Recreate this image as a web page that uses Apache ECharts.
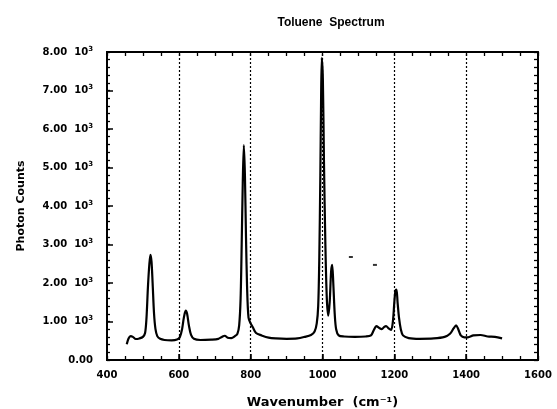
<!DOCTYPE html>
<html>
<head>
<meta charset="utf-8">
<script src="https://cdn.jsdelivr.net/npm/echarts@6/dist/echarts.min.js"></script>
<style>
  html, body { margin: 0; padding: 0; background: #fff; }
  #chart { width: 557px; height: 409px; }
</style>
</head>
<body>
<div id="chart"></div>
<script>
// wavenumber (cm-1) and photon counts
var wavenumbers = [
    455, 460, 466, 472, 480, 490, 500, 506, 510, 514, 518, 521, 524, 527, 531, 535, 540, 548, 560, 580,
    595, 603, 609, 614, 619, 623, 628, 634, 642, 660, 690, 710, 720, 728, 736, 746, 756, 763, 768, 772,
    775, 778, 781, 784, 787, 790, 794, 800, 806, 815, 830, 850, 870, 900, 930, 950, 968, 978, 984, 988,
    991, 994, 996, 998, 1001, 1004, 1008, 1012, 1016, 1020, 1024, 1027, 1030, 1034, 1038, 1045, 1060, 1090, 1120, 1135,
    1143, 1150, 1158, 1165, 1172, 1177, 1184, 1191, 1196, 1200, 1203, 1206, 1209, 1213, 1218, 1224, 1240, 1270, 1310, 1340,
    1355, 1365, 1372, 1378, 1385, 1395, 1405, 1420, 1440, 1460, 1480, 1500
]
var counts = [
    410, 560, 620, 600, 545, 560, 600, 700, 1100, 1900, 2500, 2730, 2550, 2000, 1200, 800, 620, 550, 520, 510,
    530, 600, 800, 1100, 1280, 1200, 900, 650, 550, 520, 530, 550, 600, 630, 580, 570, 620, 680, 900, 1600,
    3000, 4600, 5580, 4800, 3200, 1900, 1100, 950, 850, 700, 640, 580, 560, 550, 560, 600, 650, 740, 950, 1400,
    2600, 4800, 6700, 7850, 7300, 5200, 3000, 1600, 1150, 1500, 2300, 2470, 2000, 1200, 800, 640, 610, 600, 610, 640,
    780, 880, 830, 800, 860, 880, 820, 780, 1000, 1500, 1800, 1830, 1500, 1100, 800, 640, 570, 550, 560, 600,
    680, 820, 900, 800, 640, 590, 590, 640, 650, 610, 600, 560
]
// two stray specks visible in the scan
var speck_x = [1079, 1146]
var speck_y = [2675, 2470]

var y_ticks = [0, 1000, 2000, 3000, 4000, 5000, 6000, 7000, 8000]
var grid_lines = [600, 800, 1000, 1200, 1400]

function pairs(xs, ys)
{
    var out = []
    for (var i = 0; i < xs.length; i++) {
        out.push([xs[i], ys[i]])
    }
    return out
}

var font = '"DejaVu Sans", "Liberation Sans", sans-serif'
var frame_line = { show: true, onZero: false, lineStyle: { color: '#000', width: 2 } }

// an unlabeled axis used only to draw inward ticks along one side of the frame
function tick_axis(position, min, max, interval, len)
{
    return {
        type: 'value', min: min, max: max, interval: interval, position: position,
        axisLine: frame_line,
        axisTick: { show: true, inside: true, length: len, lineStyle: { color: '#000', width: 1.3 } },
        axisLabel: { show: false },
        splitLine: { show: false }
    }
}

var chart = echarts.init(document.getElementById('chart'), null, { renderer: 'canvas' })

var option = {
    animation: false,
    backgroundColor: '#fff',
    title: {
        text: 'Toluene  Spectrum',
        left: 326,
        top: 12,
        textAlign: 'center',
        textStyle: { fontFamily: '"Liberation Sans", Arial, sans-serif', fontWeight: 900, fontSize: 12, color: '#000' }
    },
    grid: {
        left: 107,
        right: 19,
        top: 52,
        bottom: 49,
        outerBoundsMode: 'none'
    },
    xAxis: [
        {
            type: 'value',
            min: 400,
            max: 1600,
            interval: 200,
            name: 'Wavenumber  (cm\u207B\u00B9)',
            nameLocation: 'middle',
            nameGap: 36,
            nameTextStyle: { fontFamily: font, fontWeight: 'bold', fontSize: 13, color: '#000' },
            axisLine: frame_line,
            axisTick: { show: true, inside: true, length: 6, lineStyle: { color: '#000', width: 1.5 } },
            axisLabel: {
                margin: 10,
                fontFamily: font,
                fontWeight: 'bold',
                fontSize: 10,
                color: '#000',
                formatter: function (v) { return String(v) }
            },
            splitLine: { show: false }
        },
        tick_axis('bottom', 400, 1600, 50, 4),
        tick_axis('top', 400, 1600, 50, 4)
    ],
    yAxis: [
        {
            type: 'value',
            min: 0,
            max: 8000,
            interval: 1000,
            name: 'Photon Counts',
            nameLocation: 'middle',
            nameRotate: 90,
            nameGap: 80,
            nameTextStyle: { fontFamily: font, fontWeight: 'bold', fontSize: 11, color: '#000' },
            axisLine: frame_line,
            axisTick: { show: true, inside: true, length: 6, lineStyle: { color: '#000', width: 1.5 } },
            axisLabel: {
                margin: 14,
                fontFamily: font,
                fontWeight: 'bold',
                fontSize: 10,
                color: '#000',
                formatter: function (v) {
                    if (y_ticks.indexOf(v) < 0) return ''
                    if (v === 0) return '0.00'
                    return (v / 1000).toFixed(2) + '  10{sup|3}'
                },
                rich: {
                    sup: { fontFamily: font, fontWeight: 'bold', fontSize: 7, color: '#000', padding: [0, 0, 6, 0] }
                }
            },
            splitLine: { show: false }
        },
        tick_axis('left', 0, 8000, 200, 3),
        tick_axis('right', 0, 8000, 200, 4)
    ],
    series: [
        {
            name: 'Toluene',
            type: 'line',
            data: pairs(wavenumbers, counts),
            showSymbol: false,
            smooth: 0.3,
            lineStyle: { color: '#000', width: 2.2 },
            markLine: {
                silent: true,
                symbol: 'none',
                label: { show: false },
                lineStyle: { color: '#000', type: [2, 2], width: 1.2 },
                data: grid_lines.map(function (x) { return { xAxis: x } })
            },
            z: 3
        },
        {
            name: 'specks',
            type: 'scatter',
            data: pairs(speck_x, speck_y),
            symbol: 'rect',
            symbolSize: [4, 2],
            itemStyle: { color: '#000' }
        }
    ]
}

chart.setOption(option)
</script>
</body>
</html>
